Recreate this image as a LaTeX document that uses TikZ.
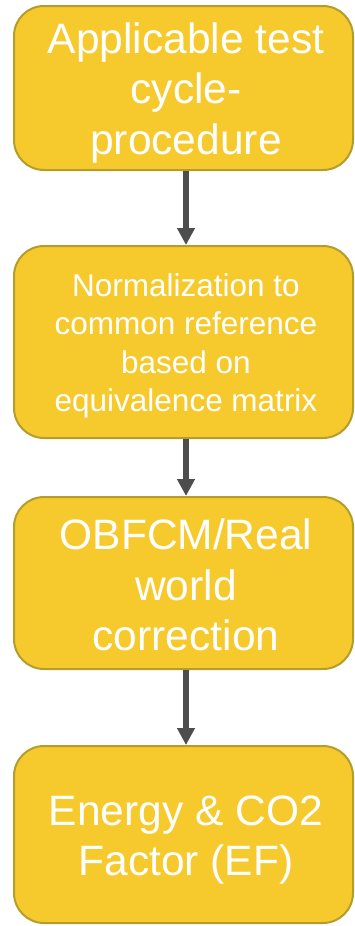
\documentclass[tikz,border=0pt]{standalone}
\usepackage{fontspec}
\setmainfont{Liberation Sans}
\usetikzlibrary{arrows.meta}
\definecolor{boxfill}{HTML}{F6CA2C}
\definecolor{boxline}{HTML}{B59D2C}
\definecolor{arrowgray}{HTML}{4D4D4D}
\tikzset{
  box/.style={draw=boxline, line width=2pt, fill=boxfill, rounded corners=30pt,
    minimum width=339pt, inner sep=0pt},
  bigtext/.style={text=white, align=center, inner sep=0pt, font=\fontsize{42.5}{50.5}\selectfont},
  smalltext/.style={text=white, align=center, inner sep=0pt, font=\fontsize{31.5}{38.3}\selectfont},
  flow/.style={draw=arrowgray, line width=6pt, -{Triangle[width=17pt,length=17pt]}}
}
\begin{document}
\begin{tikzpicture}[x=1pt,y=-1pt]
\useasboundingbox (0,0) rectangle (355,926);
\node[box, minimum height=164pt] (b1) at (183.5,88) {};
\node[bigtext] (t1) at (186,93) {Applicable test\\cycle-\\procedure};
\node[box, minimum height=192pt] (b2) at (183.5,342) {};
\node[smalltext] (t2) at (186,346) {Normalization to\\common reference\\based on\\equivalence matrix};
\node[box, minimum height=172pt] (b3) at (183.5,583) {};
\node[bigtext] (t3) at (186,585) {OBFCM/Real\\world\\correction};
\node[box, minimum height=177pt] (b4) at (183.5,834.5) {};
\node[bigtext] (t4) at (186,840) {Energy \& CO2\\Factor (EF)};
\draw[flow] ([xshift=2.5pt]b1.south) -- ([xshift=2.5pt]b2.north);
\draw[flow] ([xshift=2.5pt]b2.south) -- ([xshift=2.5pt]b3.north);
\draw[flow] ([xshift=2.5pt]b3.south) -- ([xshift=2.5pt]b4.north);
\end{tikzpicture}
\end{document}
